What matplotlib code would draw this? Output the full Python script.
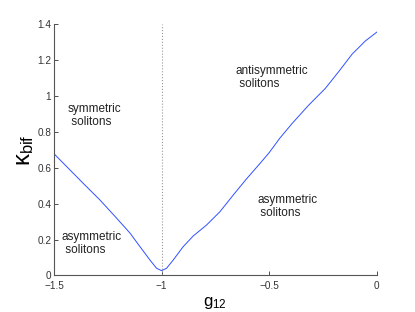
import matplotlib
matplotlib.use('Agg')
import matplotlib.pyplot as plt

plt.rcParams['font.family'] = ['Liberation Sans', 'DejaVu Sans']
plt.rcParams['mathtext.fontset'] = 'custom'
plt.rcParams['mathtext.rm'] = 'Liberation Sans'
plt.rcParams['mathtext.it'] = 'Liberation Sans'

# bifurcation curve
g12 = [-1.5, -1.364, -1.286, -1.208, -1.146, -1.1, -1.054, -1.023, -1.0,
       -0.977, -0.946, -0.9, -0.853, -0.791, -0.729, -0.667, -0.606, -0.544,
       -0.5, -0.451, -0.393, -0.316, -0.239, -0.177, -0.115, -0.053, 0.0]
kbif = [0.678, 0.513, 0.42, 0.318, 0.235, 0.16, 0.086, 0.04, 0.027,
        0.04, 0.086, 0.16, 0.22, 0.281, 0.355, 0.448, 0.537, 0.622,
        0.684, 0.764, 0.847, 0.949, 1.042, 1.135, 1.232, 1.306, 1.355]

xticks = [-1.5, -1, -0.5, 0]
xlabels = ['\u22121.5', '\u22121', '\u22120.5', '0']
yticks = [0, 0.2, 0.4, 0.6, 0.8, 1.0, 1.2, 1.4]
ylabels = ['0', '0.2', '0.4', '0.6', '0.8', '1', '1.2', '1.4']

regions = [
    ('symmetric\n solitons', -1.435, 0.89),
    ('asymmetric\n solitons', -1.463, 0.18),
    ('antisymmetric\n solitons', -0.655, 1.10),
    ('asymmetric\n solitons', -0.555, 0.383),
]

fig = plt.figure(figsize=(4.15, 3.12), dpi=100)
ax = fig.add_axes([0.130, 0.117, 0.778, 0.806])

ax.plot([-1, -1], [0, 1.4], color='#999999', linestyle=':', linewidth=0.8)
ax.plot(g12, kbif, color='#3050ff', linewidth=0.7)

for txt, x, y in regions:
    ax.text(x, y, txt, fontsize=8.5, va='center', ha='left',
            linespacing=1.1, color='#222222')

ax.set_xlim(-1.5, 0)
ax.set_ylim(0, 1.4)
ax.set_xticks(xticks)
ax.set_xticklabels(xlabels)
ax.set_yticks(yticks)
ax.set_yticklabels(ylabels)

for side in ['top', 'right']:
    ax.spines[side].set_visible(False)
for side in ['left', 'bottom']:
    ax.spines[side].set_color('#555555')
    ax.spines[side].set_linewidth(0.8)
ax.tick_params(direction='in', length=3, width=0.6, labelsize=7.2,
               colors='#333333')
ax.tick_params(axis='x', pad=4)
ax.tick_params(axis='y', pad=2)

ax.set_xlabel(r'$\mathregular{g_{12}}$', fontsize=12, labelpad=3)
ax.set_ylabel(r'$\mathregular{\kappa_{bif}}$', fontsize=17, labelpad=1)

fig.savefig('out.png', dpi=100)
